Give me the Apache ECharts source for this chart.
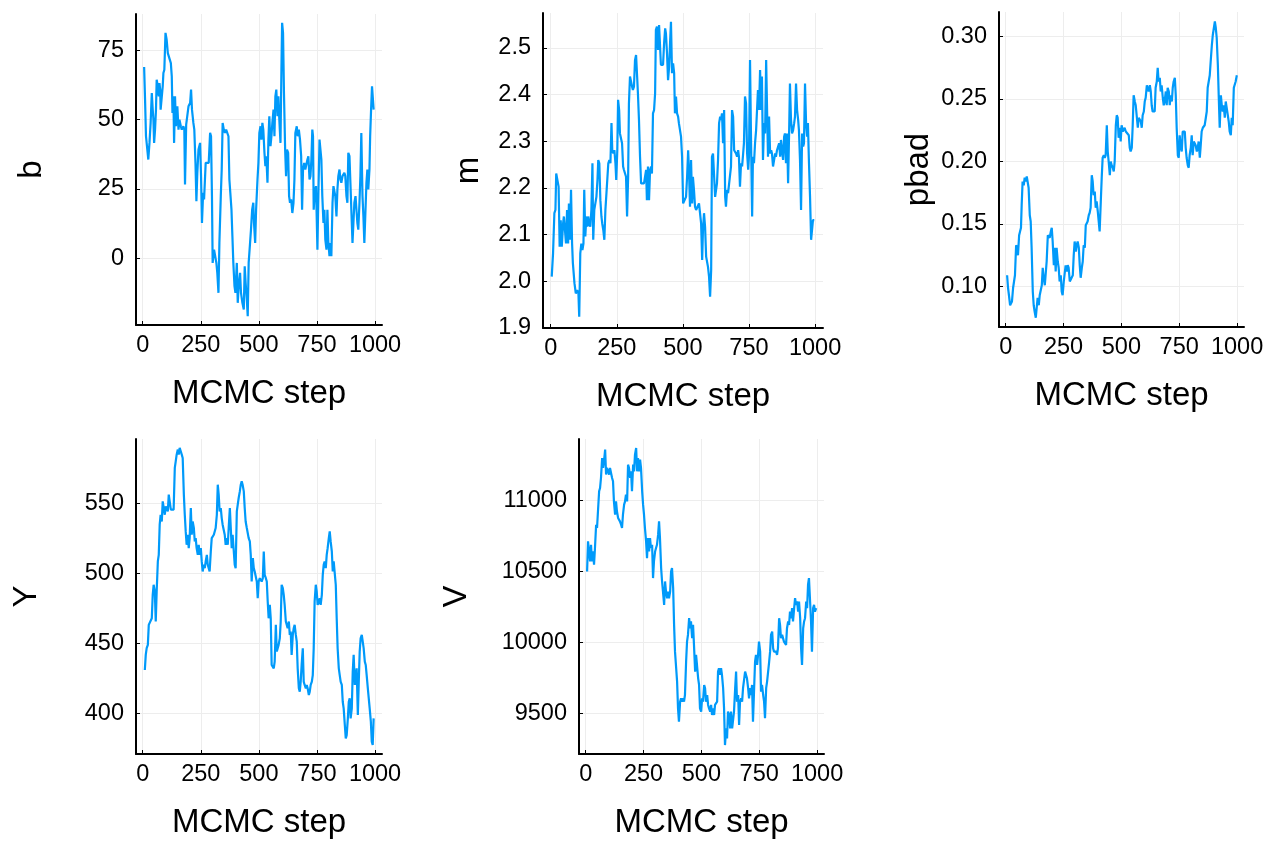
<!DOCTYPE html>
<html>
<head>
<meta charset="utf-8">
<title>MCMC traces</title>
<script src="https://cdn.jsdelivr.net/npm/echarts@6/dist/echarts.min.js"></script>
<style>
  html, body { margin: 0; padding: 0; background: #fff; }
  #chart { width: 1279px; height: 851px; }
</style>
</head>
<body>
<div id="chart"></div>
<script>
// trace values, as [MCMC step, value]
const bTrace = [[6,69],[10,57.2],[14,44],[20,43.4],[24,35.6],[29,41.6],[34,48.8],[39,59.6],[43,53.6],[46,50],[49,41.6],[53,46.4],[57,53.6],[60,64.4],[65,62],[69,58.4],[72,63.2],[75,60.8],[77,53.6],[82,53],[86,62],[89,66.8],[93,68],[98,81.3],[103,78.8],[108,74],[115,74.6],[121,70.4],[125,65.6],[128,52.4],[132,58.4],[135,41.6],[139,58.4],[143,47.6],[149,54.8],[154,46.4],[158,50],[164,47.6],[168,46.4],[175,47.6],[179,46.4],[182,26.6],[187,48.2],[192,48.8],[197,54.8],[204,56],[208,60.8],[212,53.6],[218,48.8],[222,46.4],[227,34.4],[231,20.6],[235,30.8],[240,39.2],[247,41.6],[251,29.6],[255,12.7],[260,23.6],[264,21.2],[271,34.4],[278,34.4],[284,34.4],[290,45.2],[294,44],[298,22.4],[301,-1.7],[307,3.1],[313,3.1],[317,-1.7],[321,-5.3],[326,-12.5],[330,5.5],[336,22.4],[340,32],[344,48.8],[349,46.4],[354,45.2],[359,46.4],[364,46.4],[369,44],[373,28.4],[377,23.6],[382,17.5],[386,7.9],[390,-1.7],[395,-10.1],[399,-12.5],[405,-1.7],[409,-16.1],[413,-10.1],[419,-5.3],[423,-12.5],[429,-16.1],[435,-18.5],[439,-2.9],[443,-8.9],[448,-14.9],[452,-20.9],[456,-1.7],[462,5.5],[466,10.3],[471,17.5],[476,20],[479,12.7],[484,5.5],[488,17.5],[494,28.4],[498,34.4],[502,45.2],[507,47.6],[511,42.8],[515,48.8],[519,46.4],[524,38],[528,33.2],[532,36.8],[537,27.2],[541,42.8],[545,51.2],[550,40.4],[554,44],[558,48.8],[563,53.6],[567,44],[571,58.4],[575,60.8],[580,51.2],[584,58.4],[588,50],[593,41.6],[597,68],[600,84.9],[604,81.3],[608,59.6],[613,39.2],[617,29.6],[621,39.2],[626,38],[630,22.4],[634,20],[639,21.2],[644,16.3],[649,20],[653,28.4],[657,45.2],[663,47.6],[667,44],[672,46.4],[677,42.8],[682,36.8],[686,17.5],[690,32],[695,34.4],[700,32],[705,32],[709,35.6],[713,36.8],[718,28.4],[722,29.6],[726,35.6],[730,46.4],[733,44],[736,17.5],[740,23.6],[746,26],[752,3.1],[756,22.4],[761,42.8],[765,39.2],[769,35.6],[773,22.4],[778,12.7],[782,17.5],[786,6.7],[791,3.1],[795,17.5],[799,5.5],[804,0.7],[808,5.5],[812,0.7],[817,20],[821,26],[825,26],[829,22.4],[834,15.1],[838,24.8],[842,29.6],[847,32],[851,28.4],[855,27.2],[860,29.6],[864,29.6],[868,30.8],[872,29.6],[877,22.4],[881,20],[885,38],[890,36.8],[894,27.2],[898,17.5],[903,5.5],[907,12.7],[911,20],[916,22.4],[920,17.5],[924,12.7],[928,10.3],[933,20],[937,29.6],[941,45.2],[946,22.4],[950,15.1],[954,5.5],[959,5.5],[963,27.2],[967,32],[971,24.8],[976,32],[979,44],[983,53.6],[987,62],[992,62],[994,53.6],[997,53.6]];

const mTrace = [[4,2.01],[9,2.06],[14,2.146],[18,2.153],[21,2.231],[26,2.231],[30,2.203],[34,2.074],[38,2.131],[42,2.074],[47,2.124],[50,2.139],[54,2.139],[58,2.081],[62,2.153],[66,2.081],[69,2.167],[73,2.089],[77,2.196],[81,2.081],[84,2.039],[90,1.996],[95,1.974],[100,1.981],[105,1.974],[108,1.924],[112,2.06],[116,2.081],[120,2.067],[124,2.081],[127,2.196],[131,2.096],[135,2.139],[139,2.117],[142,2.139],[146,2.124],[150,2.117],[154,2.153],[158,2.253],[161,2.089],[165,2.153],[169,2.167],[173,2.181],[177,2.217],[180,2.26],[184,2.253],[188,2.174],[192,2.139],[195,2.124],[199,2.11],[203,2.089],[207,2.153],[211,2.189],[214,2.189],[218,2.253],[222,2.26],[226,2.253],[230,2.339],[233,2.281],[237,2.274],[241,2.281],[245,2.253],[248,2.217],[252,2.281],[255,2.389],[259,2.367],[262,2.317],[266,2.317],[270,2.296],[274,2.246],[277,2.239],[281,2.239],[285,2.224],[289,2.139],[293,2.224],[296,2.381],[300,2.439],[304,2.439],[308,2.417],[311,2.41],[315,2.417],[319,2.474],[323,2.485],[327,2.439],[330,2.403],[334,2.346],[338,2.267],[342,2.21],[346,2.21],[349,2.21],[353,2.21],[357,2.21],[361,2.239],[364,2.174],[368,2.246],[372,2.174],[376,2.239],[380,2.246],[383,2.231],[387,2.36],[391,2.367],[395,2.403],[398,2.539],[402,2.546],[406,2.496],[410,2.549],[414,2.553],[417,2.464],[421,2.467],[425,2.464],[429,2.51],[433,2.542],[436,2.531],[440,2.489],[444,2.431],[448,2.46],[451,2.503],[455,2.556],[459,2.446],[463,2.467],[467,2.446],[470,2.36],[474,2.396],[478,2.36],[482,2.353],[485,2.339],[489,2.339],[493,2.31],[497,2.267],[501,2.167],[504,2.167],[508,2.167],[512,2.181],[516,2.224],[520,2.281],[523,2.239],[527,2.16],[531,2.26],[535,2.167],[538,2.224],[542,2.196],[546,2.16],[550,2.153],[554,2.153],[557,2.153],[561,2.167],[565,2.167],[569,2.124],[573,2.046],[576,2.11],[580,2.146],[584,2.117],[588,2.053],[591,2.053],[595,2.031],[599,2.01],[603,1.967],[607,2.024],[610,2.267],[614,2.274],[618,2.274],[622,2.181],[625,2.181],[629,2.21],[633,2.26],[637,2.339],[641,2.353],[644,2.346],[648,2.36],[652,2.296],[656,2.367],[660,2.181],[663,2.16],[667,2.196],[671,2.189],[675,2.189],[678,2.189],[682,2.246],[686,2.367],[690,2.353],[694,2.281],[697,2.281],[701,2.274],[705,2.267],[709,2.281],[712,2.267],[716,2.203],[720,2.253],[724,2.246],[728,2.274],[731,2.296],[735,2.396],[739,2.381],[743,2.274],[747,2.239],[750,2.267],[754,2.474],[758,2.296],[762,2.139],[765,2.267],[769,2.253],[773,2.296],[777,2.324],[781,2.324],[784,2.41],[788,2.367],[792,2.453],[796,2.367],[799,2.439],[803,2.26],[807,2.339],[811,2.317],[815,2.474],[818,2.381],[822,2.267],[826,2.353],[830,2.274],[834,2.281],[837,2.274],[841,2.246],[845,2.246],[849,2.274],[852,2.267],[856,2.281],[860,2.281],[864,2.296],[868,2.267],[871,2.303],[875,2.303],[879,2.26],[883,2.31],[886,2.317],[890,2.253],[894,2.317],[898,2.21],[902,2.324],[905,2.424],[909,2.346],[913,2.317],[917,2.324],[921,2.339],[924,2.353],[928,2.424],[932,2.367],[936,2.346],[939,2.324],[943,2.26],[947,2.153],[951,2.317],[955,2.289],[958,2.296],[962,2.424],[966,2.339],[970,2.31],[973,2.339],[977,2.253],[981,2.181],[985,2.089],[989,2.089],[992,2.131],[997,2.131]];

const pbadTrace = [[6,0.109],[10,0.099],[14,0.093],[19,0.085],[23,0.084],[27,0.088],[32,0.099],[36,0.104],[40,0.109],[45,0.133],[49,0.131],[53,0.125],[58,0.141],[62,0.144],[66,0.147],[69,0.165],[73,0.184],[78,0.181],[82,0.187],[86,0.184],[91,0.188],[95,0.188],[99,0.179],[104,0.157],[108,0.152],[112,0.131],[117,0.096],[121,0.085],[125,0.08],[130,0.075],[134,0.083],[138,0.091],[143,0.085],[147,0.093],[151,0.093],[156,0.101],[160,0.115],[164,0.107],[169,0.101],[173,0.101],[177,0.12],[182,0.141],[186,0.141],[190,0.139],[195,0.144],[199,0.147],[203,0.136],[208,0.117],[212,0.131],[216,0.112],[220,0.131],[225,0.12],[229,0.115],[233,0.104],[238,0.109],[242,0.096],[246,0.093],[251,0.104],[255,0.104],[259,0.117],[264,0.112],[268,0.117],[272,0.115],[277,0.104],[281,0.104],[285,0.104],[290,0.109],[294,0.125],[298,0.136],[303,0.128],[307,0.133],[311,0.136],[316,0.131],[320,0.117],[324,0.107],[329,0.115],[333,0.12],[337,0.133],[342,0.131],[346,0.149],[350,0.149],[354,0.152],[359,0.157],[363,0.159],[367,0.163],[372,0.189],[376,0.184],[380,0.173],[385,0.176],[389,0.163],[393,0.168],[398,0.16],[402,0.152],[406,0.144],[411,0.168],[415,0.187],[419,0.203],[424,0.205],[428,0.203],[432,0.205],[437,0.229],[441,0.208],[445,0.2],[450,0.189],[454,0.2],[458,0.197],[463,0.195],[467,0.192],[471,0.2],[476,0.229],[480,0.237],[484,0.235],[488,0.219],[493,0.227],[497,0.216],[501,0.229],[506,0.224],[510,0.224],[514,0.227],[519,0.224],[523,0.225],[527,0.224],[532,0.221],[536,0.211],[540,0.208],[545,0.211],[549,0.229],[553,0.253],[558,0.248],[562,0.245],[566,0.237],[571,0.227],[575,0.235],[579,0.235],[584,0.232],[588,0.227],[592,0.237],[597,0.24],[601,0.248],[605,0.251],[610,0.261],[614,0.261],[618,0.256],[623,0.261],[627,0.256],[631,0.245],[635,0.24],[640,0.24],[644,0.24],[648,0.259],[653,0.264],[657,0.275],[661,0.264],[666,0.267],[670,0.256],[674,0.261],[679,0.251],[683,0.245],[687,0.248],[692,0.256],[696,0.245],[700,0.259],[705,0.256],[709,0.245],[713,0.253],[718,0.248],[722,0.259],[726,0.264],[731,0.267],[735,0.253],[739,0.227],[744,0.205],[748,0.203],[752,0.221],[757,0.211],[761,0.208],[765,0.224],[770,0.224],[774,0.224],[778,0.211],[782,0.203],[787,0.197],[791,0.195],[795,0.205],[800,0.211],[804,0.221],[808,0.205],[813,0.216],[817,0.216],[821,0.213],[826,0.208],[830,0.211],[834,0.216],[839,0.203],[843,0.213],[847,0.224],[852,0.227],[856,0.227],[860,0.229],[865,0.235],[869,0.24],[873,0.259],[878,0.259],[882,0.269],[886,0.28],[891,0.293],[895,0.301],[899,0.301],[904,0.312],[908,0.307],[912,0.299],[917,0.277],[921,0.251],[925,0.227],[930,0.253],[934,0.245],[938,0.24],[942,0.245],[947,0.235],[951,0.248],[955,0.248],[960,0.237],[964,0.232],[968,0.224],[973,0.221],[977,0.235],[981,0.229],[986,0.259],[990,0.259],[994,0.264],[999,0.269]];

const yTrace = [[9,431],[13,441.8],[17,446.6],[22,449],[26,463.3],[30,464.5],[34,463.3],[39,468],[43,484.8],[47,492],[52,487.2],[56,465.7],[60,487.2],[65,508.7],[69,513.4],[73,535],[77,542.1],[82,537.3],[86,551.7],[90,552.9],[95,542.1],[99,548.1],[103,549.3],[108,544.5],[112,556.5],[116,551.7],[121,545.7],[125,544.5],[129,544.5],[133,545.7],[138,575.6],[142,580.3],[146,585.1],[151,588.7],[155,585.1],[159,589.9],[164,588.7],[168,585.1],[172,582.7],[177,556.5],[181,542.1],[185,530.2],[189,520.6],[194,527.8],[198,518.2],[202,525.4],[207,546.9],[211,527.8],[215,537.3],[220,532.6],[224,523],[228,525.4],[232,518.2],[237,513.4],[241,520.6],[245,513.4],[250,518.2],[254,508.7],[258,501.5],[263,506.3],[267,503.9],[271,508.7],[276,513.4],[280,506.3],[284,503.9],[288,501.5],[293,515.8],[297,525.4],[301,525.4],[306,527.8],[310,527.8],[314,532.6],[319,542.1],[323,563.6],[327,556.5],[331,544.5],[336,546.9],[340,539.7],[344,535],[349,535],[353,527.8],[357,520.6],[362,525.4],[366,520.6],[370,532.6],[375,546.9],[379,532.6],[383,518.2],[387,527.8],[392,515.8],[396,506.3],[400,503.9],[405,544.5],[409,549.3],[413,554.1],[418,558.8],[422,563.6],[426,566],[430,563.6],[435,558.8],[439,546.9],[443,537.3],[448,532.6],[452,532.6],[456,525.4],[461,523],[465,513.4],[469,494.3],[474,511.1],[478,503.9],[482,501.5],[486,501.5],[491,494.3],[495,482.4],[499,494.3],[504,496.7],[508,496.7],[512,494.3],[517,496.7],[521,515.8],[525,499.1],[530,496.7],[534,494.3],[538,480],[542,468],[547,477.6],[551,468],[555,434.6],[560,434.6],[564,432.2],[568,437],[573,463.3],[577,444.2],[581,446.6],[585,449],[590,453.7],[594,465.7],[598,492],[603,489.6],[607,484.8],[611,477.6],[616,465.7],[620,465.7],[624,460.9],[629,465.7],[633,456.1],[637,458.5],[641,441.8],[646,456.1],[650,460.9],[654,463.3],[659,456.1],[663,451.3],[667,432.2],[672,417.9],[676,415.5],[680,422.7],[684,434.6],[689,446.6],[693,422.7],[697,420.3],[702,417.9],[706,420.3],[710,417.9],[715,413.1],[719,415.5],[723,420.3],[728,422.7],[732,427.4],[736,446.6],[740,480],[745,492],[749,487.2],[753,477.6],[758,480],[762,482.4],[766,477.6],[771,484.8],[775,499.1],[779,506.3],[783,508.7],[788,503.9],[792,513.4],[796,518.2],[801,525.4],[805,530.2],[809,523],[814,515.8],[818,501.5],[822,508.7],[827,508.7],[831,492],[835,468],[839,446.6],[844,432.2],[848,427.4],[852,422.7],[857,420.3],[861,408.3],[865,403.5],[870,391.6],[874,382.1],[878,384.4],[883,396.4],[887,408.3],[891,410.7],[895,396.4],[900,403.5],[904,429.8],[908,441.8],[913,420.3],[917,425],[921,432.2],[926,398.8],[930,422.7],[934,444.2],[938,453.7],[943,456.1],[947,456.1],[951,446.6],[956,437],[960,434.6],[964,427.4],[969,417.9],[973,410.7],[977,403.5],[982,394],[986,379.7],[990,377.3],[994,396.4]];

const vTrace = [[6,10500],[10,10713],[14,10713],[19,10571],[23,10689],[27,10571],[32,10642],[36,10548],[40,10666],[45,10830],[49,10807],[53,10925],[58,11066],[62,11089],[66,11160],[71,11301],[75,11231],[79,11278],[84,11360],[88,11184],[92,11231],[97,11243],[101,11184],[105,11231],[110,11243],[114,11160],[118,11137],[122,10995],[127,10901],[131,10995],[135,10925],[140,10878],[144,10878],[148,10854],[153,10830],[157,10807],[161,10901],[166,10972],[170,10995],[174,11042],[179,10995],[183,11254],[187,11231],[192,11160],[196,11207],[200,11066],[205,11254],[209,11207],[213,11325],[218,11372],[222,11207],[226,11301],[231,11207],[235,11290],[239,11231],[244,11066],[248,10972],[252,10901],[256,10807],[261,10713],[265,10595],[269,10736],[274,10642],[278,10736],[282,10666],[287,10689],[291,10454],[295,10571],[300,10642],[304,10666],[308,10689],[313,10760],[317,10854],[321,10736],[326,10524],[330,10430],[334,10359],[339,10265],[343,10430],[347,10359],[352,10312],[356,10359],[360,10312],[365,10359],[369,10500],[373,10524],[378,10383],[382,10124],[386,9935],[391,9818],[395,9724],[399,9535],[403,9441],[408,9582],[412,9606],[416,9582],[421,9606],[425,9582],[429,9629],[434,9865],[438,10006],[442,10053],[447,10171],[451,10100],[455,10148],[460,10030],[464,10124],[468,9983],[473,9794],[477,9912],[481,9841],[486,9747],[490,9700],[494,9535],[499,9512],[503,9606],[507,9582],[512,9700],[516,9677],[520,9582],[525,9629],[529,9559],[533,9535],[538,9512],[542,9559],[546,9488],[550,9535],[555,9488],[559,9559],[563,9559],[568,9582],[572,9794],[576,9818],[581,9771],[585,9818],[589,9771],[594,9677],[598,9535],[602,9276],[607,9394],[611,9323],[615,9512],[620,9488],[624,9394],[628,9512],[633,9394],[637,9394],[641,9512],[646,9677],[650,9794],[654,9582],[659,9629],[663,9417],[667,9582],[672,9606],[676,9582],[680,9677],[684,9677],[689,9794],[693,9794],[697,9747],[702,9677],[706,9606],[710,9677],[715,9629],[719,9700],[723,9441],[728,9677],[732,9865],[736,9912],[741,9841],[745,9912],[749,10006],[754,9935],[758,9653],[762,9700],[767,9629],[771,9582],[775,9465],[780,9677],[784,9724],[788,9724],[793,9865],[797,9935],[801,10053],[806,10077],[810,9959],[814,9935],[818,9935],[823,9935],[827,9912],[831,9959],[836,10171],[840,10124],[844,10030],[849,10053],[853,10053],[857,10006],[862,10006],[866,9983],[870,10100],[875,10148],[879,10124],[883,10218],[888,10171],[892,10242],[896,10148],[901,10242],[905,10312],[909,10265],[914,10289],[918,10218],[922,10289],[927,10171],[931,9959],[935,9841],[940,10100],[944,10148],[948,10171],[953,10289],[957,10242],[961,10407],[965,10454],[970,10454],[974,10148],[978,9935],[983,10242],[987,10265],[991,10218],[996,10242]];

// tick labels
const stepTicks = [0, 250, 500, 750, 1000];
const bTicks = [0, 25, 50, 75];
const mTicks = [1.9, 2.0, 2.1, 2.2, 2.3, 2.4, 2.5];
const pbadTicks = [0.10, 0.15, 0.20, 0.25, 0.30];
const yTicks = [400, 450, 500, 550];
const vTicks = [9500, 10000, 10500, 11000];

const FONT = "'Liberation Sans', Arial, Helvetica, sans-serif";
const LINE_COLOR = '#009afa';

// one subplot per entry: box in px, y range, name
const panels = [
    { name: 'b',    data: bTrace,    ticks: bTicks,    digits: 0, min: -24.1, max: 88.1,  box: [136, 14, 246, 311], nameGap: 88 },
    { name: 'm',    data: mTrace,    ticks: mTicks,    digits: 1, min: 1.9,   max: 2.575, box: [543, 13, 280, 315], nameGap: 58 },
    { name: 'pbad', data: pbadTrace, ticks: pbadTicks, digits: 2, min: 0.0676, max: 0.3196, box: [999, 12, 245, 315], nameGap: 64 },
    { name: 'Y',    data: yTrace,    ticks: yTicks,    digits: 0, min: 370.9, max: 596.3, box: [136, 439, 246, 315], nameGap: 93 },
    { name: 'V',    data: vTrace,    ticks: vTicks,    digits: 0, min: 9213,  max: 11435, box: [579, 439, 245, 315], nameGap: 106 },
];

const axisLine = { show: true, onZero: false, lineStyle: { color: '#000', width: 2 } };
const axisTick = { show: true, inside: true, length: 4, lineStyle: { color: '#000', width: 1 } };
const splitLine = { show: true, lineStyle: { color: '#ededed', width: 1 } };

const grid = [], xAxis = [], yAxis = [], series = [];

panels.forEach((p, i) => {
    const [left, top, width, height] = p.box;
    grid.push({ left, top, width, height, containLabel: false });

    xAxis.push({
        type: 'value', gridIndex: i, min: -29, max: 1030,
        name: 'MCMC step', nameLocation: 'middle', nameGap: 52,
        nameTextStyle: { fontFamily: FONT, fontSize: 33, color: '#000' },
        axisLine,
        axisTick: Object.assign({ customValues: stepTicks }, axisTick),
        axisLabel: {
            customValues: stepTicks, fontFamily: FONT, fontSize: 23.5, color: '#000', margin: 9,
            formatter: v => String(v)
        },
        splitLine
    });

    yAxis.push({
        type: 'value', gridIndex: i, min: p.min, max: p.max,
        name: p.name, nameLocation: 'middle', nameGap: p.nameGap,
        nameTextStyle: { fontFamily: FONT, fontSize: 33, color: '#000' },
        axisLine,
        axisTick: Object.assign({ customValues: p.ticks }, axisTick),
        axisLabel: {
            customValues: p.ticks, fontFamily: FONT, fontSize: 23.5, color: '#000', margin: 12,
            formatter: v => v.toFixed(p.digits)
        },
        splitLine
    });

    series.push({
        type: 'line', xAxisIndex: i, yAxisIndex: i,
        data: p.data, showSymbol: false, symbol: 'none',
        lineStyle: { color: LINE_COLOR, width: 2.2 },
        animation: false
    });
});

const chart = echarts.init(document.getElementById('chart'), null, { renderer: 'canvas' });
chart.setOption({ backgroundColor: '#fff', animation: false, grid, xAxis, yAxis, series });
</script>
</body>
</html>
